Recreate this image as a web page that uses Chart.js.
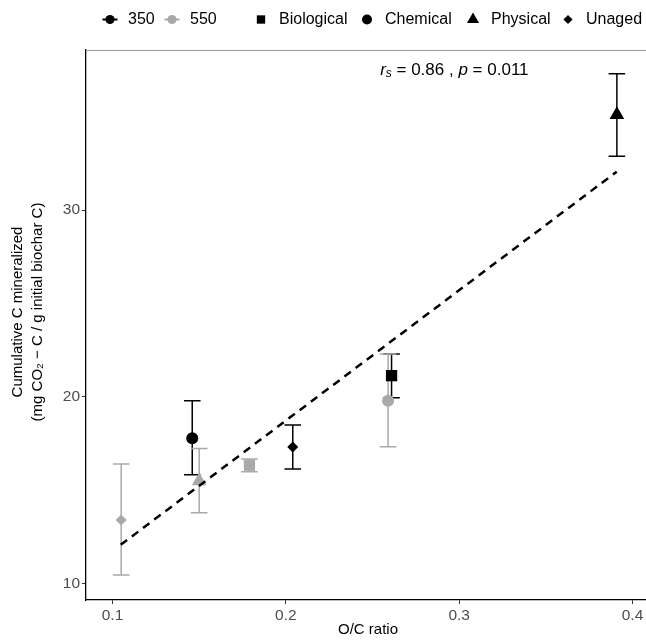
<!DOCTYPE html>
<html>
<head>
<meta charset="utf-8">
<script src="https://cdn.jsdelivr.net/npm/chart.js@4.4.1/dist/chart.umd.min.js"></script>
<style>
  html, body { margin: 0; padding: 0; background: #fff; overflow: hidden; }
  #wrap { width: 646px; height: 640px; }
  canvas { display: block; }
</style>
</head>
<body>
<div id="wrap"><canvas id="chart" width="646" height="640"></canvas></div>
<script>
// pyrolysis temperature and ageing treatment groups
const temps = ['350', '550'];
const treatments = ['Biological', 'Chemical', 'Physical', 'Unaged'];

// one entry per biochar: temperature, treatment, O/C ratio, mean and error range
const pointTemp      = ['350', '350', '350', '350', '550', '550', '550', '550'];
const pointTreatment = ['Biological', 'Chemical', 'Physical', 'Unaged', 'Biological', 'Chemical', 'Physical', 'Unaged'];
const ocRatio  = [0.261, 0.146, 0.391, 0.204, 0.179, 0.259, 0.150, 0.105];
const cMineral = [21.14, 17.79, 35.10, 17.33, 16.35, 19.80, 15.50, 13.42];
const cLow     = [19.96, 15.84, 32.87, 16.15, 16.00, 17.34, 13.81, 10.48];
const cHigh    = [22.30, 19.80, 37.29, 18.50, 16.68, 22.30, 17.24, 16.42];

// linear fit (dashed)
const fitX = [0.1047, 0.3909];
const fitY = [12.09, 32.05];

// axis ticks
const xTicks = [0.1, 0.2, 0.3, 0.4];
const yTicks = [10, 20, 30];

// Spearman result
const statR = '0.86';
const statP = '0.011';

(function () {
  'use strict';

  const FONT = "'Liberation Sans', Arial, sans-serif";
  const tempColor = { '350': '#000000', '550': '#a9a9a9' };
  const shapeOf = { Biological: 'rect', Chemical: 'circle', Physical: 'triangle', Unaged: 'rectRot' };
  const sizeOf = { rect: 8, circle: 6, triangle: 8.5, rectRot: 5.5 };

  // one scatter dataset per temperature, marker shape per treatment
  const pointSets = temps.map(t => {
    const idx = pointTemp.map((v, i) => (v === t ? i : -1)).filter(i => i >= 0);
    const shapes = idx.map(i => shapeOf[pointTreatment[i]]);
    return {
      label: t,
      data: idx.map(i => ({ x: ocRatio[i], y: cMineral[i], lo: cLow[i], hi: cHigh[i] })),
      pointStyle: shapes,
      pointRadius: shapes.map(s => sizeOf[s]),
      pointHoverRadius: shapes.map(s => sizeOf[s]),
      pointBackgroundColor: tempColor[t],
      pointBorderColor: tempColor[t],
      pointBorderWidth: 0,
      showLine: false
    };
  });

  const fitSet = {
    label: 'fit',
    data: fitX.map((x, i) => ({ x, y: fitY[i] })),
    showLine: true,
    borderColor: '#000',
    borderWidth: 2.5,
    borderDash: [8, 6],
    pointRadius: 0,
    pointHoverRadius: 0,
    fill: false
  };

  // vertical error bars with caps, under the markers
  const errorBars = {
    id: 'errorBars',
    beforeDatasetsDraw(chart) {
      const { ctx, scales: { x, y } } = chart;
      const cap = 8.3;
      ctx.save();
      ctx.lineWidth = 1.5;
      chart.data.datasets.forEach(ds => {
        if (ds.label === 'fit') return;
        ctx.strokeStyle = tempColor[ds.label];
        ds.data.forEach(d => {
          const px = x.getPixelForValue(d.x);
          const top = y.getPixelForValue(d.hi);
          const bot = y.getPixelForValue(d.lo);
          ctx.beginPath();
          ctx.moveTo(px, top); ctx.lineTo(px, bot);
          ctx.moveTo(px - cap, top); ctx.lineTo(px + cap, top);
          ctx.moveTo(px - cap, bot); ctx.lineTo(px + cap, bot);
          ctx.stroke();
        });
      });
      ctx.restore();
    }
  };

  // titles, panel top line, stat label and the two legends
  const decorations = {
    id: 'decorations',
    afterDraw(chart) {
      const { ctx, chartArea: a, scales: { x, y } } = chart;
      ctx.save();

      // panel top edge
      ctx.strokeStyle = '#9a9a9a';
      ctx.lineWidth = 1;
      ctx.beginPath();
      ctx.moveTo(a.left, a.top + 0.5);
      ctx.lineTo(a.right, a.top + 0.5);
      ctx.stroke();

      ctx.fillStyle = '#000';
      ctx.textBaseline = 'middle';

      // x title
      ctx.font = '15px ' + FONT;
      ctx.textAlign = 'center';
      ctx.fillText('O/C ratio', 368, 630);

      // y title, two lines
      ctx.save();
      ctx.translate(0, 312);
      ctx.rotate(-Math.PI / 2);
      ctx.fillText('Cumulative C mineralized', 0, 18);
      ctx.fillText('(mg CO\u2082 \u2212 C / g initial biochar C)', 0, 38);
      ctx.restore();

      // r_s = .., p = ..
      ctx.textAlign = 'left';
      let tx = x.getPixelForValue(0.2544);
      const ty = y.getPixelForValue(37.49);
      const run = (txt, font, dy) => {
        ctx.font = font;
        ctx.fillText(txt, tx, ty + (dy || 0));
        tx += ctx.measureText(txt).width;
      };
      run('r', 'italic 17px ' + FONT);
      run('s', 'italic 12px ' + FONT, 4);
      run(' = ' + statR + ' , ', '17px ' + FONT);
      run('p', 'italic 17px ' + FONT);
      run(' = ' + statP, '17px ' + FONT);

      // legends
      const ly = 19.5;
      const glyphX = [110, 172, 261, 367, 473, 568];
      const legendSize = { rect: 5.9, circle: 5, triangle: 7, rectRot: 4.6 };
      const items = temps.map(t => ({ text: t, color: tempColor[t], style: 'range' }))
        .concat(treatments.map(tr => ({ text: tr, color: '#000', style: shapeOf[tr] })));
      ctx.font = '16px ' + FONT;
      items.forEach((it, i) => {
        const gx = glyphX[i];
        ctx.fillStyle = it.color;
        ctx.strokeStyle = it.color;
        if (it.style === 'range') {
          ctx.lineWidth = 2;
          ctx.beginPath();
          ctx.moveTo(gx - 7.5, ly); ctx.lineTo(gx + 7.5, ly);
          ctx.stroke();
          Chart.helpers.drawPoint(ctx, { pointStyle: 'circle', radius: 4.6, borderWidth: 0 }, gx, ly);
        } else {
          Chart.helpers.drawPoint(ctx, { pointStyle: it.style, radius: legendSize[it.style], borderWidth: 0, rotation: 0 }, gx, ly);
        }
        ctx.fillStyle = '#000';
        ctx.fillText(it.text, gx + 18, ly);
      });

      ctx.restore();
    }
  };

  // no extra room for edge tick labels: the panel runs to the canvas edge
  const noLabelPadding = s => {
    s._calculatePadding = function () {
      this.paddingLeft = this.paddingRight = this.paddingTop = this.paddingBottom = 0;
    };
  };

  const tickFont = { family: FONT, size: 15.5 };
  const axisBase = {
    type: 'linear',
    grid: { drawOnChartArea: false, drawTicks: true, tickLength: 4, tickColor: '#333', tickWidth: 1 },
    border: { display: true, color: '#000', width: 1.3 },
    ticks: { color: '#4d4d4d', font: tickFont, padding: 2 }
  };

  new Chart(document.getElementById('chart'), {
    type: 'scatter',
    data: { datasets: [fitSet].concat(pointSets) },
    options: {
      responsive: false,
      animation: false,
      events: [],
      layout: { autoPadding: false, padding: { top: 50, left: 0, right: 0, bottom: 0 } },
      plugins: { legend: { display: false }, tooltip: { enabled: false } },
      scales: {
        x: {
          ...axisBase,
          min: 0.0847,
          max: 0.4078,
          beforeFit: noLabelPadding,
          afterBuildTicks: s => { s.ticks = xTicks.map(v => ({ value: v })); },
          afterFit: s => { s.height = 40; },
          ticks: { ...axisBase.ticks, callback: v => v.toFixed(1), maxRotation: 0 }
        },
        y: {
          ...axisBase,
          min: 9.14,
          max: 38.56,
          beforeFit: noLabelPadding,
          afterBuildTicks: s => { s.ticks = yTicks.map(v => ({ value: v })); },
          afterFit: s => { s.width = 86; },
          ticks: { ...axisBase.ticks, callback: v => String(v) }
        }
      }
    },
    plugins: [errorBars, decorations]
  });
})();
</script>
</body>
</html>
